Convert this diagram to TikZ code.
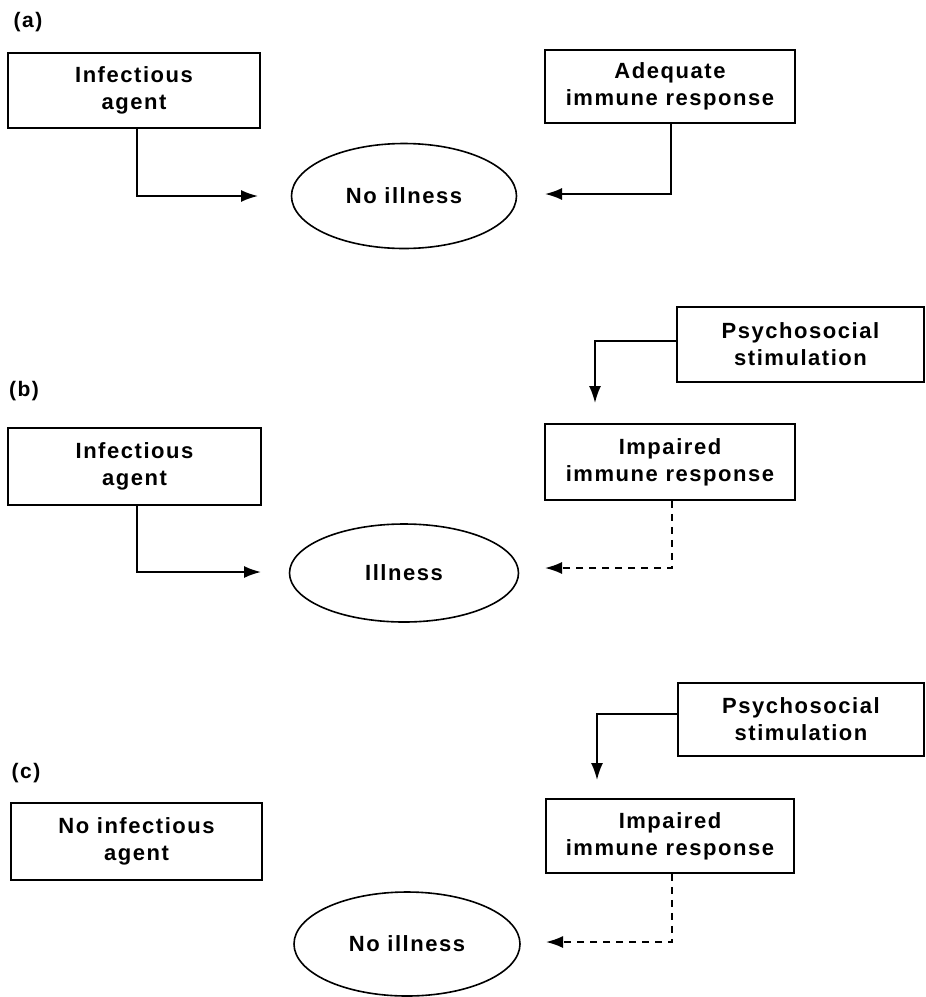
\documentclass[tikz,border=0pt]{standalone}
\usepackage{fontspec}
\setmainfont{Liberation Sans}[LetterSpace=7]
\usetikzlibrary{shapes.geometric,arrows.meta}
\begin{document}
\begin{tikzpicture}[x=1pt,y=-1pt,
  every node/.style={font=\fontsize{22}{27}\selectfont\bfseries},
  box/.style={draw,line width=1.9pt,rectangle,align=center,inner sep=0pt},
  oval/.style={draw,line width=1.6pt,ellipse,inner sep=0pt},
  conn/.style={line width=1.8pt,-{Latex[length=17pt,width=12pt]}},
  dconn/.style={conn,dash pattern=on 7pt off 6pt},
  lab/.style={font=\fontsize{21}{22}\selectfont\bfseries}]
\useasboundingbox (0,0) rectangle (926,997);
% (a)
\node[lab] (la) at (28,22) {(a)};
\node[box,minimum width=252pt,minimum height=75pt] (ia) at (134,90.5) {Infectious\\agent};
\node[box,minimum width=250pt,minimum height=73pt] (aa) at (670,86.5) {Adequate\\immune response};
\node[oval,minimum width=225pt,minimum height=105pt] (ea) at (404,196) {No illness};
\coordinate (ta1) at (258,196);
\coordinate (ta2) at (545,194);
\draw[conn] ([xshift=3pt]ia.south) |- (ta1);
\draw[conn] ([xshift=1pt]aa.south) |- (ta2);
% (b)
\node[lab] (lb) at (24,391) {(b)};
\node[box,minimum width=247pt,minimum height=75pt] (pb) at (800.5,344.5) {Psychosocial\\stimulation};
\node[box,minimum width=250pt,minimum height=76pt] (mb) at (670,462) {Impaired\\immune response};
\node[box,minimum width=253pt,minimum height=77pt] (ib) at (134.5,466.5) {Infectious\\agent};
\node[oval,minimum width=229pt,minimum height=98pt] (eb) at (404,573) {Illness};
\coordinate (tb1) at (261,572);
\coordinate (tb2) at (595,403);
\coordinate (tb3) at (545,568);
\draw[conn] ([xshift=2.5pt]ib.south) |- (tb1);
\draw[conn] ([yshift=3.5pt]pb.west) -| (tb2);
\draw[dconn] ([xshift=2pt]mb.south) |- (tb3);
% (c)
\node[lab] (lc) at (26,773) {(c)};
\node[box,minimum width=246pt,minimum height=73pt] (pc) at (801,719.5) {Psychosocial\\stimulation};
\node[box,minimum width=251pt,minimum height=77pt] (nc) at (136.5,841.5) {No infectious\\agent};
\node[box,minimum width=248pt,minimum height=74pt] (mc) at (670,836) {Impaired\\immune response};
\node[oval,minimum width=226pt,minimum height=104pt] (ec) at (407,944) {No illness};
\coordinate (tc2) at (597,780);
\coordinate (tc3) at (546,942);
\draw[conn] ([yshift=5.5pt]pc.west) -| (tc2);
\draw[dconn] ([xshift=2pt]mc.south) |- (tc3);
\end{tikzpicture}
\end{document}
